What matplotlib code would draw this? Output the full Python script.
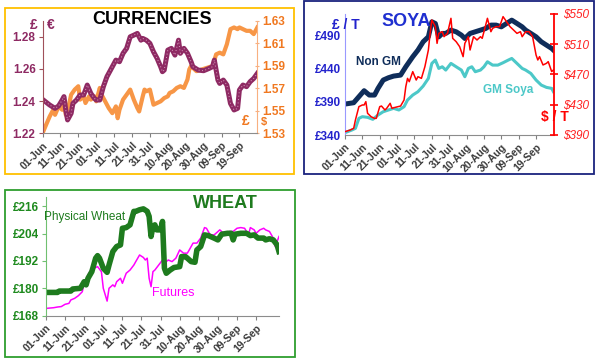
import matplotlib
matplotlib.use('Agg')
import matplotlib.pyplot as plt
from matplotlib.patches import Rectangle

plt.rcParams['font.family'] = ['Liberation Sans', 'DejaVu Sans']

# ---------------- data ----------------
x_tick_days = [0, 10, 20, 30, 40, 50, 60, 70, 80, 90, 100, 110]
x_tick_labels = ['01-Jun', '11-Jun', '21-Jun', '01-Jul', '11-Jul', '21-Jul',
                 '31-Jul', '10-Aug', '20-Aug', '30-Aug', '09-Sep', '19-Sep']

# Currencies: GBP/EUR (left axis) and GBP/USD (right axis); x = days since 01-Jun
eur_days = [0, 4, 7, 9, 11, 12, 13, 14, 16, 17, 19, 21, 23, 25, 27, 29, 30, 32, 34, 36,
            38, 41, 43, 45, 47, 49, 51, 53, 55, 56, 58, 60, 62, 64, 66, 67, 68, 70, 72, 74,
            76, 77, 79, 81, 83, 84, 87, 90, 93, 95, 96, 98, 99, 101, 103, 105, 107, 109, 110, 112,
            114, 116, 118, 120]
eur_vals = [1.2411, 1.2376, 1.2355, 1.2370, 1.2407, 1.2428, 1.2345, 1.2283, 1.2324, 1.2386,
            1.2407, 1.2438, 1.2438, 1.2500, 1.2448, 1.2417, 1.2407, 1.2407, 1.2490, 1.2552,
            1.2593, 1.2655, 1.2645, 1.2697, 1.2728, 1.2800, 1.2810, 1.2821, 1.2779, 1.2790,
            1.2779, 1.2759, 1.2707, 1.2666, 1.2614, 1.2583, 1.2593, 1.2717, 1.2728, 1.2686,
            1.2779, 1.2697, 1.2728, 1.2697, 1.2645, 1.2614, 1.2593, 1.2589, 1.2603, 1.2614,
            1.2655, 1.2531, 1.2510, 1.2531, 1.2500, 1.2386, 1.2345, 1.2355, 1.2469, 1.2500,
            1.2490, 1.2521, 1.2541, 1.2572]
usd_days = [0, 2, 4, 6, 7, 9, 11, 12, 13, 15, 16, 18, 20, 21, 23, 24, 26, 27, 29, 30,
            32, 33, 35, 37, 39, 41, 42, 43, 45, 47, 49, 51, 53, 54, 56, 57, 58, 60, 62, 64,
            66, 68, 70, 71, 73, 75, 77, 79, 81, 82, 83, 86, 89, 92, 95, 97, 99, 101, 103, 105,
            107, 109, 110, 112, 114, 116, 118, 119, 120]
usd_vals = [1.530, 1.5375, 1.5449, 1.5509, 1.5464, 1.5539, 1.5509, 1.5599, 1.5464, 1.5569,
            1.5643, 1.5688, 1.5718, 1.5599, 1.5628, 1.5569, 1.5628, 1.5599, 1.5628, 1.5584,
            1.5703, 1.5643, 1.5584, 1.5524, 1.5479, 1.5539, 1.5434, 1.5509, 1.5599, 1.5643,
            1.5688, 1.5599, 1.5524, 1.5494, 1.5628, 1.5688, 1.5673, 1.5688, 1.5554, 1.5569,
            1.5584, 1.5613, 1.5628, 1.5658, 1.5673, 1.5703, 1.5718, 1.5703, 1.5778, 1.5867,
            1.5897, 1.5852, 1.5867, 1.5882, 1.5897, 1.6001, 1.6016, 1.6001, 1.6091, 1.6225,
            1.6240, 1.6225, 1.6240, 1.6225, 1.6210, 1.6210, 1.6181, 1.6210, 1.6240]
eur_ticks = [1.22, 1.24, 1.26, 1.28]
usd_ticks = [1.53, 1.55, 1.57, 1.59, 1.61, 1.63]

# Soya: Non GM and GM (GBP/t, left), futures (USD/t, right)
nongm_days = [0, 5, 8, 11, 14, 17, 19, 22, 25, 28, 32, 35, 39, 42, 45, 48, 50, 52, 54, 56,
              58, 61, 64, 67, 69, 72, 75, 78, 81, 84, 87, 90, 93, 96, 99, 102, 104, 107, 110, 113,
              116, 119, 120]
nongm_vals = [386.8, 388.8, 397.9, 407.0, 400.4, 400.4, 410.5, 423.1, 426.6, 429.1,
              430.6, 443.2, 458.3, 468.4, 481.0, 488.5, 511.2, 508.7, 488.5, 493.6,
              493.6, 498.6, 496.1, 491.1, 486.0, 493.6, 496.1, 498.6, 501.1, 506.2,
              506.2, 503.6, 508.7, 513.7, 508.7, 503.6, 498.6, 493.6, 488.5, 481.0,
              475.9, 470.9, 468.4]
gm_days = [0, 4, 6, 8, 10, 13, 16, 19, 22, 25, 28, 31, 34, 36, 39, 42, 45, 48, 50, 52,
           54, 56, 58, 61, 64, 67, 69, 71, 73, 75, 78, 80, 82, 85, 88, 91, 94, 96, 99, 102,
           104, 107, 110, 113, 116, 119, 120]
gm_vals = [343.5, 347.6, 350.1, 365.2, 367.7, 366.7, 363.7, 370.2, 375.2, 377.8,
           380.3, 377.8, 382.8, 392.9, 400.4, 405.5, 414.0, 425.6, 448.3, 453.3,
           440.7, 443.2, 438.2, 448.3, 443.2, 438.2, 428.1, 440.7, 443.2, 435.7,
           438.2, 443.2, 450.8, 445.7, 445.7, 449.3, 453.3, 455.8, 448.3, 440.7,
           438.2, 433.1, 423.1, 415.5, 412.0, 410.5, 405.5]
soyfut_days = [0, 3, 5, 6, 8, 10, 11, 12, 13, 15, 17, 18, 20, 21, 23, 24, 26, 27, 29, 32,
               34, 35, 36, 37, 39, 41, 42, 44, 46, 48, 49, 50, 52, 53, 54, 56, 57, 59, 61, 62,
               64, 66, 68, 69, 71, 72, 74, 76, 78, 79, 80, 82, 84, 85, 87, 89, 91, 93, 95, 97,
               99, 101, 102, 104, 106, 108, 110, 111, 112, 114, 116, 117, 119, 120]
soyfut_vals = [394.4, 396.6, 398.8, 409.8, 427.5, 429.7, 429.7, 434.1, 418.7, 414.2,
               412.0, 412.0, 427.5, 428.3, 423.1, 425.3, 431.9, 425.3, 426.6, 428.3,
               436.3, 453.9, 464.9, 460.5, 473.8, 462.7, 467.1, 464.9, 480.4, 502.4,
               524.4, 542.1, 533.3, 511.2, 524.4, 526.6, 520.0, 524.4, 544.3, 517.8,
               513.4, 506.8, 493.6, 511.2, 520.0, 502.4, 520.0, 515.6, 520.0, 517.8,
               526.6, 544.3, 526.6, 531.1, 533.3, 533.3, 546.5, 539.9, 533.3, 528.9,
               524.4, 526.6, 520.0, 526.6, 526.6, 520.0, 495.8, 489.2, 493.6, 482.6,
               484.8, 487.0, 473.8, 476.0]
soy_gbp_ticks = [340, 390, 440, 490]
soy_usd_ticks = [390, 430, 470, 510, 550]

# Wheat: physical and futures (GBP/t)
phys_days = [0, 6, 7, 13, 14, 18, 20, 21, 22, 24, 26, 27, 28, 30, 32, 33, 35, 37, 39, 40,
             42, 44, 46, 47, 49, 51, 53, 54, 55, 56, 57, 58, 60, 61, 62, 63, 65, 67, 70, 71,
             73, 74, 76, 78, 79, 81, 83, 85, 88, 90, 92, 95, 97, 98, 99, 102, 105, 107, 109, 111,
             114, 115, 117, 119, 121, 122]
phys_vals = [178.2, 178.2, 178.8, 178.8, 179.7, 180.0, 182.9, 181.5, 184.4, 187.3,
             193.2, 194.3, 193.2, 188.8, 187.0, 190.2, 196.1, 198.3, 199.0, 206.3,
             206.6, 207.8, 213.7, 213.7, 214.4, 214.8, 213.7, 211.5, 202.7, 207.1,
             207.8, 205.6, 205.6, 209.3, 188.8, 186.6, 188.0, 189.1, 189.5, 193.9,
             193.9, 193.2, 191.7, 191.4, 196.8, 198.3, 203.4, 203.1, 202.0, 201.2,
             203.7, 204.1, 204.1, 201.2, 203.7, 204.1, 204.1, 203.1, 203.4, 202.0,
             202.0, 201.2, 201.7, 201.2, 199.0, 196.1]
wfut_days = [0, 4, 6, 8, 10, 12, 13, 15, 17, 19, 20, 22, 24, 26, 27, 29, 30, 32, 33, 35,
             36, 37, 39, 40, 42, 44, 46, 47, 49, 51, 52, 53, 54, 55, 56, 57, 59, 61, 62, 64,
             66, 68, 70, 72, 74, 75, 77, 79, 81, 83, 84, 86, 88, 89, 91, 93, 95, 96, 98, 100,
             102, 104, 106, 107, 109, 110, 112, 114, 115, 117, 119, 120, 122]
wfut_vals = [171.2, 171.5, 171.8, 172.0, 173.0, 173.4, 174.9, 175.6, 176.8, 178.5,
             182.2, 185.9, 188.8, 189.1, 189.5, 187.3, 180.0, 174.4, 180.0, 181.5,
             180.7, 182.9, 184.4, 182.2, 186.6, 188.0, 190.2, 191.7, 194.6, 193.5,
             192.4, 193.2, 184.4, 180.7, 187.3, 188.0, 190.2, 192.4, 191.0, 192.4,
             191.7, 193.2, 196.8, 195.4, 195.4, 196.8, 199.8, 199.8, 202.0, 206.6,
             206.3, 203.4, 203.4, 204.1, 205.6, 204.1, 203.7, 204.9, 204.9, 206.3,
             206.6, 206.3, 203.4, 206.6, 205.6, 204.1, 205.6, 206.3, 205.6, 204.9,
             202.0, 198.3, 202.7]
wheat_ticks = [168, 180, 192, 204, 216]

# ---------------- layout helpers ----------------
W, H = 600.0, 363.0
fig = plt.figure(figsize=(6.0, 3.63), dpi=100)
fig.patch.set_facecolor('white')


def rect_px(l, t, r, b):
    return [l / W, 1 - b / H, (r - l) / W, (b - t) / H]


def ftext(x, y, s, **kw):
    fig.text(x / W, 1 - y / H, s, ha='center', va='center', **kw)


def border(l, t, r, b, color):
    fig.add_artist(Rectangle((l / W, 1 - b / H), (r - l) / W, (b - t) / H,
                             transform=fig.transFigure, fill=False,
                             edgecolor=color, linewidth=1.3))


def style_xaxis(ax, xmax):
    ax.set_xlim(0, xmax)
    ax.set_xticks(x_tick_days)
    ax.set_xticklabels(x_tick_labels, rotation=45, ha='right',
                       rotation_mode='anchor', fontsize=7.5, fontweight='bold',
                       color='#3a3a3a')
    ax.tick_params(axis='x', length=3, color='#808080', pad=2)
    ax.spines['bottom'].set_color('#8c8c8c')
    ax.spines['top'].set_visible(False)
    ax.set_facecolor('none')


# ---------------- panel 1: currencies ----------------
border(5, 8, 294, 174, '#FFC000')
ax1 = fig.add_axes(rect_px(42.5, 20.7, 257.3, 133.3))
ax1b = ax1.twinx()
style_xaxis(ax1, 120)
ax1.spines['right'].set_visible(False)
ax1.spines['left'].set_color('#A0505A')
ax1.set_ylim(1.22, 1.29)
ax1.set_yticks(eur_ticks)
ax1.set_yticklabels([f'{v:.2f}' for v in eur_ticks], fontsize=8.5,
                    fontweight='bold', color='#8E2A63')
ax1.tick_params(axis='y', length=3, color='#A0505A', pad=2)
ax1b.set_ylim(1.53, 1.63)
ax1b.set_yticks(usd_ticks)
ax1b.set_yticklabels([f'{v:.2f}' for v in usd_ticks], fontsize=8.5,
                     fontweight='bold', color='#F07820')
ax1b.tick_params(axis='y', length=3, direction='inout', color='#F8B080', pad=2)
for s in ('left', 'top', 'bottom'):
    ax1b.spines[s].set_visible(False)
ax1b.spines['right'].set_color('#F8B080')
ax1b.plot(usd_days, usd_vals, color='#F79646', lw=3.0, solid_joinstyle='round', zorder=2)
ax1.set_zorder(ax1b.get_zorder() + 1)
ax1.plot(eur_days, eur_vals, color='#8E2A63', lw=3.6, solid_joinstyle='round')
ax1.plot(eur_days, eur_vals, color='#D9A0C0', lw=0.7, linestyle=(0, (1, 2.5)))

ftext(152, 20, 'CURRENCIES', fontsize=13, fontweight='bold', color='black')
ftext(34, 25, '£', fontsize=10, fontweight='bold', color='#8E2A63')
ftext(51, 25, '€', fontsize=10, fontweight='bold', color='#8E2A63')
ftext(246, 121, '£', fontsize=10, fontweight='bold', color='#F07820')
ftext(264, 122, '$', fontsize=8, fontweight='bold', color='#F07820')

# ---------------- panel 2: soya ----------------
border(303.5, 1.5, 593.5, 174, '#1A237E')
ax2 = fig.add_axes(rect_px(345, 14, 554.3, 135))
ax2b = ax2.twinx()
style_xaxis(ax2, 120.5)
ax2.spines['right'].set_visible(False)
ax2.spines['left'].set_color('#9999FF')
ax2.set_ylim(340, 523)
ax2.set_yticks(soy_gbp_ticks)
ax2.set_yticklabels([f'£{v}' for v in soy_gbp_ticks], fontsize=8.5,
                    fontweight='bold', color='#2222CC')
ax2.tick_params(axis='y', length=0, pad=3)
ax2b.set_ylim(390, 550)
ax2b.set_yticks(soy_usd_ticks)
ax2b.set_yticklabels([f'${v}' for v in soy_usd_ticks], fontsize=8.5,
                     fontstyle='italic', color='#FF2020')
ax2b.tick_params(axis='y', length=6, direction='inout', color='#FF0000', width=1.2, pad=3)
for s in ('left', 'top', 'bottom'):
    ax2b.spines[s].set_visible(False)
ax2b.spines['right'].set_color('#FF0000')
ax2b.spines['right'].set_linewidth(1.3)
ax2.plot(nongm_days, nongm_vals, color='#0F2D5A', lw=3.6, solid_joinstyle='round')
ax2.plot(gm_days, gm_vals, color='#4CC8C8', lw=2.2, solid_joinstyle='round')
ax2b.plot(soyfut_days, soyfut_vals, color='#FF0000', lw=1.1)

ftext(406, 21, 'SOYA', fontsize=13, fontweight='bold', color='#1F2FD0')
ftext(346, 25, '£ / T', fontsize=10, fontweight='bold', color='#2222CC')
ftext(378, 62, 'Non GM', fontsize=8.5, fontweight='bold', color='#0F2D5A')
ftext(508, 90, 'GM Soya', fontsize=8.5, fontweight='bold', color='#4CC8C8')
ftext(555, 117, '$ / T', fontsize=10, fontweight='bold', color='#FF0000')

# ---------------- panel 3: wheat ----------------
border(5, 190, 295, 356.5, '#2E9E2E')
ax3 = fig.add_axes(rect_px(46, 197, 279, 315.7))
style_xaxis(ax3, 122)
ax3.spines['right'].set_visible(False)
ax3.spines['left'].set_color('#70C070')
ax3.set_ylim(168, 220)
ax3.set_yticks(wheat_ticks)
ax3.set_yticklabels([f'£{v}' for v in wheat_ticks], fontsize=8.5,
                    fontweight='bold', color='#1E8A1E')
ax3.tick_params(axis='y', length=3, color='#70C070', pad=2)
ax3.plot(wfut_days, wfut_vals, color='#FF00FF', lw=1.1)
ax3.plot(phys_days, phys_vals, color='#1E7B1E', lw=4.0, solid_joinstyle='round')

ftext(225, 204, 'WHEAT', fontsize=13, fontweight='bold', color='#1E7B1E')
ftext(85, 217, 'Physical Wheat', fontsize=8.5, color='#1E7B1E')
ftext(173, 293, 'Futures', fontsize=9, color='#FF00FF')

fig.savefig('out.png', dpi=100, facecolor='white')
